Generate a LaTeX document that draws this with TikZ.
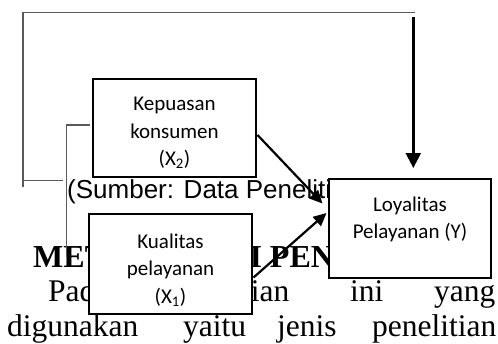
\documentclass[tikz,border=0pt]{standalone}
\usepackage{fontspec}
\setmainfont{Liberation Serif}
\newfontfamily\boxfont{Carlito}
\newfontfamily\capfont{Liberation Sans}
\usetikzlibrary{arrows.meta}
\definecolor{linegray}{HTML}{5A5A5A}
\tikzset{
  varbox/.style={draw=black, line width=2.6pt, fill=white, inner sep=0pt},
  boxtext/.style={font=\boxfont\fontsize{21}{27.5}\selectfont, align=center, inner sep=0pt},
  bodytext/.style={font=\fontsize{31.5}{34}\selectfont, anchor=base west, inner sep=0pt},
  bracket/.style={draw=linegray, line width=1.5pt},
  flow/.style={draw=black, line width=2.4pt, -{Triangle[length=15pt,width=15pt]}},
  flowsmall/.style={draw=black, line width=2.2pt, -{Triangle[length=13pt,width=12pt]}}
}
\begin{document}
\begin{tikzpicture}[x=1pt,y=-1pt]
\useasboundingbox (0,0) rectangle (498,343);

% page text lying underneath the figure
\node[anchor=base west, inner sep=0pt, font=\capfont\fontsize{26}{26}\selectfont] (source) at (67,198) {(Sumber: Data Penelitian)};
\node[anchor=base west, inner sep=0pt, font=\bfseries\fontsize{32}{32}\selectfont] (heading) at (33,267) {METODOLOGI PENELITIAN};
\node[bodytext] (w1) at (48,301) {Pada};
\node[bodytext] (w2) at (165,301) {penelitian};
\node[bodytext] (w3) at (350,301) {ini};
\node[bodytext] (w4) at (434,301) {yang};
\node[bodytext] (w5) at (7,336) {digunakan};
\node[bodytext] (w6) at (183,336) {yaitu};
\node[bodytext] (w7) at (277,336) {jenis};
\node[bodytext] (w8) at (372,336) {penelitian};

% grey bracket lines
\coordinate (o1) at (23,187);
\coordinate (o2) at (23,12.7);
\coordinate (o3) at (414.5,12.7);
\coordinate (o4) at (23,180.7);
\coordinate (o5) at (63,180.7);
\draw[bracket] (o1) -- (o2) -- (o3);
\draw[bracket] (o4) -- (o5);
\coordinate (i1) at (90,125);
\coordinate (i2) at (66.5,125);
\coordinate (i3) at (66.5,257);
\draw[bracket] (i1) -- (i2) -- (i3);

% variable boxes
\node[varbox, minimum width=163pt, minimum height=98pt] (kep) at (174.5,128) {};
\node[boxtext] (keptxt) at (174.5,133) {Kepuasan\\konsumen\\(X\textsubscript{2})};
\node[varbox, minimum width=163pt, minimum height=100pt] (kual) at (170.5,264) {};
\node[boxtext] (kualtxt) at (170.5,270) {Kualitas\\pelayanan\\(X\textsubscript{1})};
\node[varbox, minimum width=162pt, minimum height=99pt] (loy) at (410,228.5) {};
\node[boxtext] (loytxt) at (410,219.5) {Loyalitas\\Pelayanan (Y)};

% arrows
\coordinate (topstart) at (413.3,16.5);
\coordinate (topend) at (413.3,168);
\draw[flow] (topstart) -- (topend);
\coordinate (kepout) at (257.5,135);
\coordinate (kepin) at (322.5,203.5);
\draw[flowsmall] (kepout) -- (kepin);
\coordinate (kualout) at (253.5,277.5);
\coordinate (kualin) at (326.5,213);
\draw[flowsmall] (kualout) -- (kualin);
\end{tikzpicture}
\end{document}
